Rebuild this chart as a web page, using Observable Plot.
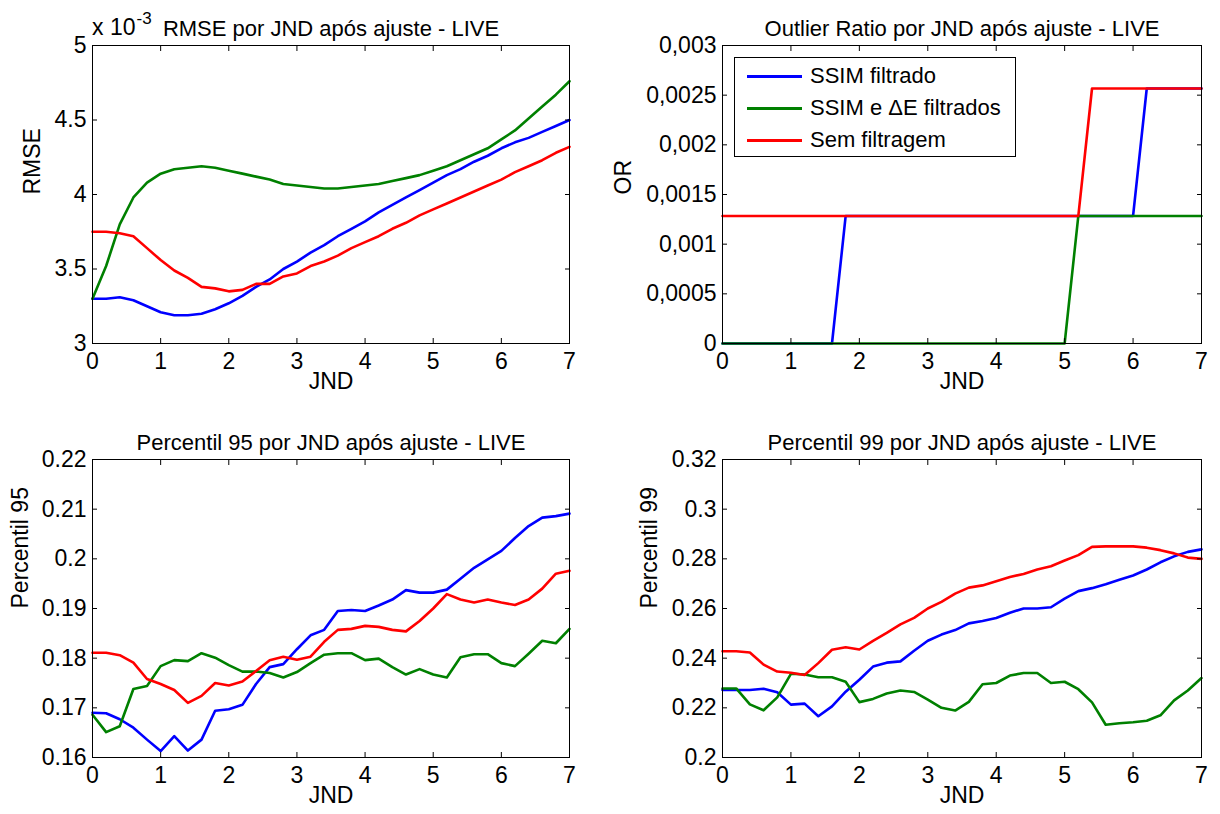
<!DOCTYPE html>
<html>
<head>
<meta charset="utf-8">
<script src="https://cdn.jsdelivr.net/npm/d3@7"></script>
<script src="https://cdn.jsdelivr.net/npm/@observablehq/plot@0.6"></script>
<style>
  html, body { margin: 0; padding: 0; background: #fff; }
  #root { position: relative; width: 1220px; height: 814px; background: #fff; overflow: hidden;
          font-family: "Liberation Sans", Arial, sans-serif; color: #000; }
  #root svg { position: absolute; overflow: visible; }
  .legend { position: absolute; left: 734px; top: 57px; width: 280px; height: 98px; border: 1px solid #000; background: #fff; }
  .legend .row { position: absolute; left: 0; height: 32px; display: flex; align-items: center; font-size: 22px; white-space: nowrap; }
  .legend .sw { display: inline-block; width: 55px; height: 3px; margin-left: 12px; margin-right: 8px; }
  .expo { position: absolute; left: 92px; top: 16px; font-size: 23px; line-height: 22px; white-space: nowrap; }
  .expo .e { font-size: 17px; position: relative; top: -11px; margin-left: 1px; }
</style>
</head>
<body>
<div id="root"></div>
<script>
// ---- data ----
const jnd = [0, 0.2, 0.4, 0.6, 0.8, 1, 1.2, 1.4, 1.6, 1.8, 2, 2.2, 2.4, 2.6, 2.8, 3, 3.2, 3.4, 3.6, 3.8,
             4, 4.2, 4.4, 4.6, 4.8, 5, 5.2, 5.4, 5.6, 5.8, 6, 6.2, 6.4, 6.6, 6.8, 7];
const seriesNames = ["SSIM filtrado", "SSIM e \u0394E filtrados", "Sem filtragem"];
const seriesColors = ["#0000ff", "#008000", "#ff0000"];
const xTicks = [0, 1, 2, 3, 4, 5, 6, 7];

// RMSE (x 10^-3)
const rmseBlue = [3.30,3.30,3.31,3.29,3.25,3.21,3.19,3.19,3.20,3.23,3.27,3.32,3.38,3.43,3.50,3.55,3.61,3.66,3.72,3.77,
                  3.82,3.88,3.93,3.98,4.03,4.08,4.13,4.17,4.22,4.26,4.31,4.35,4.38,4.42,4.46,4.50];
const rmseGreen = [3.30,3.52,3.80,3.98,4.08,4.14,4.17,4.18,4.19,4.18,4.16,4.14,4.12,4.10,4.07,4.06,4.05,4.04,4.04,4.05,
                   4.06,4.07,4.09,4.11,4.13,4.16,4.19,4.23,4.27,4.31,4.37,4.43,4.51,4.59,4.67,4.76];
const rmseRed = [3.75,3.75,3.74,3.72,3.64,3.56,3.49,3.44,3.38,3.37,3.35,3.36,3.40,3.40,3.45,3.47,3.52,3.55,3.59,3.64,
                 3.68,3.72,3.77,3.81,3.86,3.90,3.94,3.98,4.02,4.06,4.10,4.15,4.19,4.23,4.28,4.32];
const rmseTicks = [3, 3.5, 4, 4.5, 5];

// Outlier ratio
const orBlue = [0,0,0,0,0,0,0,0,0,
  0.001284,0.001284,0.001284,0.001284,0.001284,0.001284,0.001284,0.001284,0.001284,0.001284,0.001284,
  0.001284,0.001284,0.001284,0.001284,0.001284,0.001284,0.001284,0.001284,0.001284,0.001284,0.001284,
  0.002567,0.002567,0.002567,0.002567,0.002567];
const orGreen = [0,0,0,0,0,0,0,0,0,0,0,0,0,0,0,0,0,0,0,0,0,0,0,0,0,0,
  0.001284,0.001284,0.001284,0.001284,0.001284,0.001284,0.001284,0.001284,0.001284,0.001284];
const orRed = [0.001284,0.001284,0.001284,0.001284,0.001284,0.001284,0.001284,0.001284,0.001284,0.001284,
  0.001284,0.001284,0.001284,0.001284,0.001284,0.001284,0.001284,0.001284,0.001284,0.001284,
  0.001284,0.001284,0.001284,0.001284,0.001284,0.001284,0.001284,
  0.002567,0.002567,0.002567,0.002567,0.002567,0.002567,0.002567,0.002567,0.002567];
const orTicks = [0, 0.0005, 0.001, 0.0015, 0.002, 0.0025, 0.003];

// Percentil 95
const p95Blue = [0.1690,0.1689,0.1677,0.1660,0.1636,0.1613,0.1643,0.1614,0.1636,0.1694,0.1697,0.1706,0.1748,0.1782,
  0.1788,0.1818,0.1846,0.1857,0.1895,0.1897,0.1895,0.1906,0.1918,0.1937,0.1932,0.1932,0.1938,0.1960,0.1982,0.1999,
  0.2016,0.2042,0.2066,0.2083,0.2086,0.2091];
const p95Green = [0.1686,0.1651,0.1663,0.1738,0.1744,0.1784,0.1796,0.1794,0.1810,0.1801,0.1786,0.1773,0.1773,0.1770,
  0.1761,0.1772,0.1790,0.1807,0.1810,0.1810,0.1796,0.1799,0.1782,0.1767,0.1778,0.1767,0.1761,0.1802,0.1808,0.1808,
  0.1790,0.1784,0.1809,0.1835,0.1830,0.1859];
const p95Red = [0.1811,0.1811,0.1806,0.1791,0.1758,0.1748,0.1736,0.1710,0.1724,0.1750,0.1745,0.1753,0.1774,0.1796,
  0.1803,0.1797,0.1803,0.1833,0.1857,0.1859,0.1865,0.1863,0.1857,0.1854,0.1875,0.1900,0.1929,0.1918,0.1912,0.1918,
  0.1912,0.1907,0.1918,0.1940,0.1970,0.1976];
const p95Ticks = [0.16, 0.17, 0.18, 0.19, 0.2, 0.21, 0.22];

// Percentil 99
const p99Blue = [0.2272,0.2272,0.2272,0.2277,0.2263,0.2213,0.2217,0.2166,0.2206,0.2265,0.2313,0.2366,0.2382,0.2387,
  0.2430,0.2470,0.2495,0.2513,0.2540,0.2550,0.2562,0.2583,0.2600,0.2600,0.2605,0.2640,0.2670,0.2682,0.2698,0.2716,
  0.2733,0.2757,0.2786,0.2810,0.2828,0.2838];
const p99Green = [0.2278,0.2278,0.2214,0.2190,0.2242,0.2337,0.2334,0.2323,0.2323,0.2305,0.2223,0.2236,0.2258,0.2270,
  0.2264,0.2233,0.2200,0.2189,0.2224,0.2295,0.2300,0.2330,0.2340,0.2340,0.2300,0.2305,0.2275,0.2222,0.2132,0.2138,
  0.2142,0.2148,0.2170,0.2230,0.2270,0.2320];
const p99Red = [0.2428,0.2428,0.2423,0.2374,0.2346,0.2341,0.2332,0.2380,0.2434,0.2444,0.2435,0.2470,0.2502,0.2536,
  0.2562,0.2600,0.2627,0.2660,0.2684,0.2693,0.2710,0.2727,0.2739,0.2757,0.2770,0.2793,0.2815,0.2848,0.2850,0.2850,
  0.2850,0.2845,0.2835,0.2822,0.2805,0.2800];
const p99Ticks = [0.2, 0.22, 0.24, 0.26, 0.28, 0.3, 0.32];

// ---- drawing ----
const root = document.getElementById("root");
const FONT = "'Liberation Sans', Arial, sans-serif";

function panel({series, yDomain, yTicks, yFormat, title, ylabel, ylabelDx, left, top, ml, mr, mt, mb}) {
  const rows = [];
  series.forEach((vals, k) => vals.forEach((v, i) => rows.push({jnd: jnd[i], v, s: seriesNames[k]})));
  const svg = Plot.plot({
    width: 610, height: 407,
    marginLeft: ml, marginRight: mr, marginTop: mt, marginBottom: mb,
    style: {fontFamily: FONT, fontSize: "22px", background: "transparent", overflow: "visible"},
    x: {domain: [0, 7]},
    y: {domain: yDomain},
    color: {domain: seriesNames, range: seriesColors},
    marks: [
      Plot.lineY(rows, {x: "jnd", y: "v", z: "s", stroke: "s", strokeWidth: 2.6}),
      Plot.frame({stroke: "#000", strokeWidth: 1}),
      Plot.axisX(xTicks, {anchor: "bottom", tickSize: -5, tickPadding: 14, label: null, tickFormat: d => String(d), fill: "#000", stroke: "#000", fontSize: 23}),
      Plot.axisX(xTicks, {anchor: "top", tickSize: -5, label: null, tickFormat: () => "", stroke: "#000"}),
      Plot.axisY(yTicks, {anchor: "left", tickSize: -5, tickPadding: 11, label: null, tickFormat: yFormat, fill: "#000", stroke: "#000", fontSize: 23}),
      Plot.axisY(yTicks, {anchor: "right", tickSize: -5, label: null, tickFormat: () => "", stroke: "#000"}),
      Plot.text([title], {frameAnchor: "top", dy: -25, fill: "#000"}),
      Plot.text(["JND"], {frameAnchor: "bottom", dy: 45, fill: "#000", fontSize: 23}),
      Plot.text([ylabel], {frameAnchor: "left", dx: ylabelDx, rotate: -90, fill: "#000", fontSize: 23})
    ]
  });
  svg.style.left = left + "px";
  svg.style.top = top + "px";
  root.appendChild(svg);
}

const fmtDot = d => String(d);
const fmtComma = d => d === 0 ? "0" : String(+d.toFixed(4)).replace(".", ",");

panel({series: [rmseBlue, rmseGreen, rmseRed], yDomain: [3, 5], yTicks: rmseTicks, yFormat: fmtDot,
  title: "RMSE por JND após ajuste - LIVE", ylabel: "RMSE", ylabelDx: -60,
  left: 0, top: 0, ml: 92, mr: 41, mt: 45, mb: 64});
panel({series: [orBlue, orGreen, orRed], yDomain: [0, 0.003], yTicks: orTicks, yFormat: fmtComma,
  title: "Outlier Ratio por JND após ajuste - LIVE", ylabel: "OR", ylabelDx: -99,
  left: 610, top: 0, ml: 112, mr: 19, mt: 45, mb: 64});
panel({series: [p95Blue, p95Green, p95Red], yDomain: [0.16, 0.22], yTicks: p95Ticks, yFormat: fmtDot,
  title: "Percentil 95 por JND após ajuste - LIVE", ylabel: "Percentil 95", ylabelDx: -72,
  left: 0, top: 407, ml: 92, mr: 41, mt: 52, mb: 57});
panel({series: [p99Blue, p99Green, p99Red], yDomain: [0.2, 0.32], yTicks: p99Ticks, yFormat: fmtDot,
  title: "Percentil 99 por JND após ajuste - LIVE", ylabel: "Percentil 99", ylabelDx: -73,
  left: 610, top: 407, ml: 112, mr: 19, mt: 52, mb: 57});

// x 10^-3 multiplier
const expo = document.createElement("div");
expo.className = "expo";
expo.innerHTML = "x 10<span class=\"e\">-3</span>";
root.appendChild(expo);

// legend
const legend = document.createElement("div");
legend.className = "legend";
seriesNames.forEach((name, k) => {
  const row = document.createElement("div");
  row.className = "row";
  row.style.top = (2 + k * 32) + "px";
  const sw = document.createElement("span");
  sw.className = "sw";
  sw.style.background = seriesColors[k];
  row.appendChild(sw);
  row.appendChild(document.createTextNode(name));
  legend.appendChild(row);
});
root.appendChild(legend);
</script>
</body>
</html>
